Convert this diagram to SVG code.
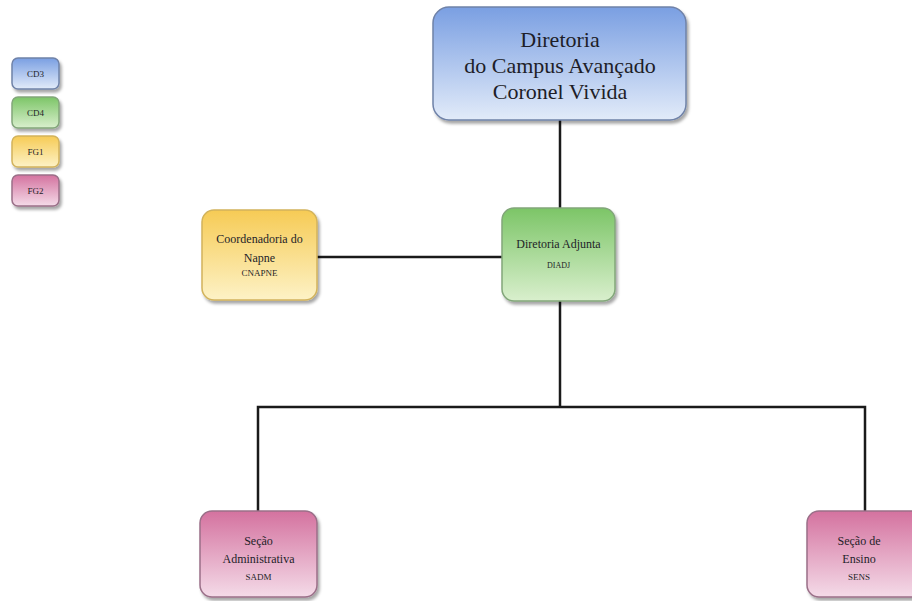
<svg xmlns="http://www.w3.org/2000/svg" width="912" height="601" viewBox="0 0 912 601">
<style>
.t{font-family:'Liberation Serif','DejaVu Serif','Times New Roman',serif;fill:#1e1e28;text-anchor:middle}
.conn{stroke:#1a1a1a;stroke-width:2.5;fill:none}
.box{stroke-width:1.5}
</style>
<defs>
<filter id="sh" x="-20%" y="-20%" width="150%" height="150%">
<feDropShadow dx="2" dy="3" stdDeviation="1.8" flood-color="#000" flood-opacity="0.35"/>
</filter>
<linearGradient id="gB" x1="0" y1="0" x2="0" y2="1"><stop offset="0" stop-color="#7a9fe2"/><stop offset="1" stop-color="#e2ebf9"/></linearGradient>
<linearGradient id="gG" x1="0" y1="0" x2="0" y2="1"><stop offset="0" stop-color="#7cc567"/><stop offset="1" stop-color="#d9efcd"/></linearGradient>
<linearGradient id="gY" x1="0" y1="0" x2="0" y2="1"><stop offset="0" stop-color="#f6cb55"/><stop offset="1" stop-color="#fdf2c6"/></linearGradient>
<linearGradient id="gP" x1="0" y1="0" x2="0" y2="1"><stop offset="0" stop-color="#d4729f"/><stop offset="1" stop-color="#f4dbe8"/></linearGradient>
</defs>

<g id="connectors">
<line class="conn" x1="560" y1="120" x2="560" y2="209"/>
<line class="conn" x1="317" y1="257" x2="502" y2="257"/>
<polyline class="conn" points="560,301 560,407"/>
<polyline class="conn" points="258,511 258,407 865,407 865,511"/>
</g>

<g id="legend-cd3">
<rect x="12" y="58" width="47" height="31" rx="6" fill="url(#gB)" stroke="#6f82a8" class="box" filter="url(#sh)"/>
<text class="t" x="35.500" y="77" font-size="9">CD3</text>
</g>
<g id="legend-cd4">
<rect x="12" y="97" width="47" height="31" rx="6" fill="url(#gG)" stroke="#82a67a" class="box" filter="url(#sh)"/>
<text class="t" x="35.500" y="116" font-size="9">CD4</text>
</g>
<g id="legend-fg1">
<rect x="12" y="136" width="47" height="31" rx="6" fill="url(#gY)" stroke="#d2b35c" class="box" filter="url(#sh)"/>
<text class="t" x="35.500" y="155" font-size="9">FG1</text>
</g>
<g id="legend-fg2">
<rect x="12" y="175" width="47" height="31" rx="6" fill="url(#gP)" stroke="#9a6f88" class="box" filter="url(#sh)"/>
<text class="t" x="35.500" y="194" font-size="9">FG2</text>
</g>

<g id="diretoria">
<rect x="433" y="7" width="253" height="113" rx="16" fill="url(#gB)" stroke="#6f82a8" class="box" filter="url(#sh)"/>
<text class="t" x="560" y="47" font-size="22">Diretoria</text>
<text class="t" x="560" y="73" font-size="22">do Campus Avançado</text>
<text class="t" x="560" y="99" font-size="22">Coronel Vivida</text>
</g>

<g id="cnapne">
<rect x="202" y="210" width="115" height="90" rx="12" fill="url(#gY)" stroke="#d2b35c" class="box" filter="url(#sh)"/>
<text class="t" x="259.500" y="243" font-size="12">Coordenadoria do</text>
<text class="t" x="259.500" y="262" font-size="12">Napne</text>
<text class="t" x="259.500" y="276" font-size="9">CNAPNE</text>
</g>

<g id="diadj">
<rect x="502" y="208" width="113" height="93" rx="12" fill="url(#gG)" stroke="#82a67a" class="box" filter="url(#sh)"/>
<text class="t" x="558.500" y="248" font-size="12">Diretoria Adjunta</text>
<text class="t" x="558.500" y="268" font-size="8">DIADJ</text>
</g>

<g id="sadm">
<rect x="200" y="511" width="117" height="86" rx="12" fill="url(#gP)" stroke="#9a6f88" class="box" filter="url(#sh)"/>
<text class="t" x="258.500" y="545" font-size="12">Seção</text>
<text class="t" x="258.500" y="563" font-size="12">Administrativa</text>
<text class="t" x="258.500" y="580" font-size="9">SADM</text>
</g>

<g id="sens">
<rect x="807" y="511" width="117" height="86" rx="12" fill="url(#gP)" stroke="#9a6f88" class="box" filter="url(#sh)"/>
<text class="t" x="859" y="545" font-size="12">Seção de</text>
<text class="t" x="859" y="563" font-size="12">Ensino</text>
<text class="t" x="859" y="580" font-size="9">SENS</text>
</g>
</svg>
